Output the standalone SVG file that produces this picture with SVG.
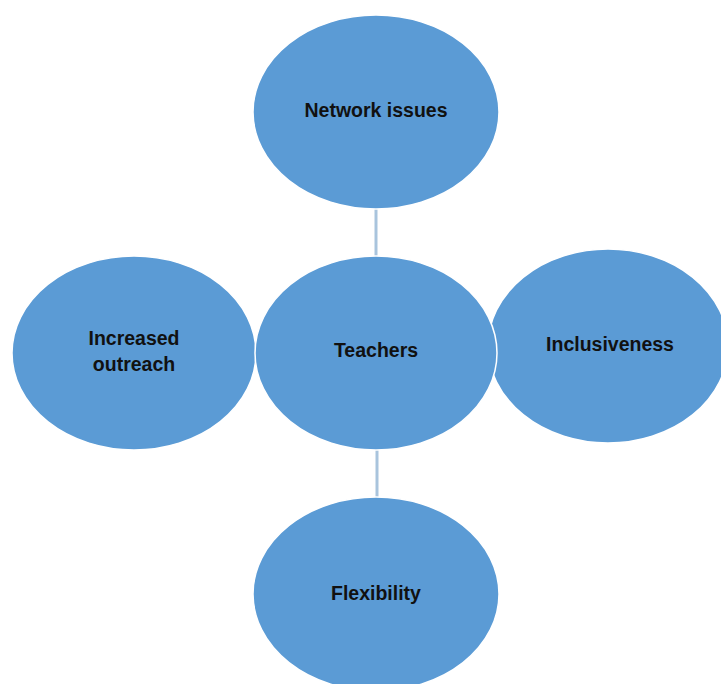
<svg xmlns="http://www.w3.org/2000/svg" width="721" height="684" viewBox="0 0 721 684">
<style>
.node ellipse{fill:#5b9bd5;stroke:#ffffff;stroke-width:1.5}
.node text{font-family:"Liberation Sans",Arial,sans-serif;font-weight:bold;font-size:19.5px;fill:#111111;text-anchor:middle}
.conn line{stroke:#a9c4dd;stroke-width:3}
</style>
<rect width="721" height="684" fill="#ffffff"/>
<g class="conn">
<line x1="376" y1="209" x2="376" y2="256"/>
<line x1="377" y1="449" x2="377" y2="497"/>
</g>
<g id="network" class="node">
<ellipse cx="376" cy="112" rx="123" ry="97"/>
<text x="376" y="117">Network issues</text>
</g>
<g id="outreach" class="node">
<ellipse cx="134" cy="353" rx="122" ry="97"/>
<text x="134" y="345">Increased</text>
<text x="134" y="371">outreach</text>
</g>
<g id="inclusiveness" class="node">
<ellipse cx="608" cy="346" rx="120" ry="97"/>
<text x="610" y="351">Inclusiveness</text>
</g>
<g id="teachers" class="node">
<ellipse cx="376" cy="353" rx="121" ry="97"/>
<text x="376" y="357">Teachers</text>
</g>
<g id="flexibility" class="node">
<ellipse cx="376" cy="594" rx="123" ry="97"/>
<text x="376" y="600">Flexibility</text>
</g>
</svg>
